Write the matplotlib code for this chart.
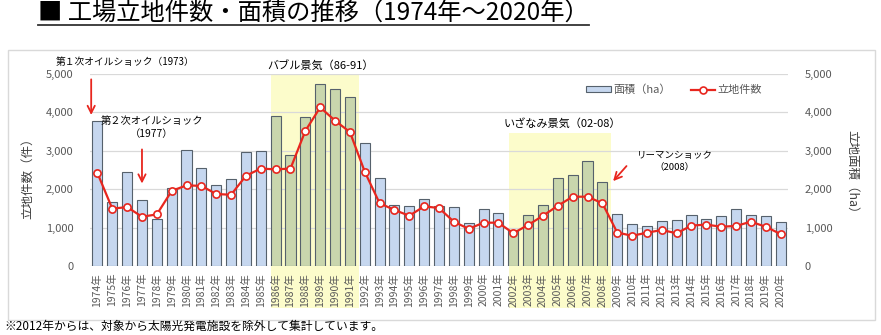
import matplotlib
matplotlib.use('Agg')
import matplotlib.pyplot as plt
import matplotlib.transforms as mtransforms
from matplotlib.patches import Rectangle
from matplotlib.lines import Line2D

plt.rcParams['font.family'] = ['Noto Sans CJK JP', 'DejaVu Sans']

# ---- data -------------------------------------------------------------
years = list(range(1974, 2021))
area_ha = [3770, 1655, 2440, 1710, 1220, 2020, 3020, 2540, 2100, 2250,
           2950, 2990, 3900, 2880, 3870, 4720, 4590, 4380, 3190, 2280,
           1585, 1570, 1735, 1560, 1525, 1110, 1475, 1370, 930, 1325,
           1585, 2280, 2365, 2735, 2180, 1340, 1080, 1040, 1180, 1190,
           1315, 1210, 1300, 1470, 1325, 1290, 1150]
sites = [2415, 1490, 1530, 1280, 1340, 1950, 2095, 2080, 1870, 1850,
         2345, 2530, 2510, 2530, 3510, 4120, 3775, 3480, 2450, 1630,
         1455, 1305, 1550, 1505, 1150, 965, 1125, 1125, 850, 1065,
         1305, 1565, 1800, 1800, 1630, 870, 785, 865, 935, 850,
         1050, 1075, 1020, 1040, 1150, 1020, 830]
tick_labels = [f'{y}年' for y in years]
boom_names = ['バブル景気（86-91）', 'いざなみ景気（02-08）']
boom_start = [1986, 2002]
boom_end = [1991, 2008]
boom_top = [5000, 3450]

# ---- colours ----------------------------------------------------------
BLUE = '#c6d7ef'
GREEN = '#c9d6ad'
EDGE = '#56616c'
RED = '#e8261e'
SHADE = '#fcfccb'
GRID = '#d9d9d9'
TXT = '#595959'

W, H = 881, 335
fig = plt.figure(figsize=(W / 100, H / 100), dpi=100)


def fx(px):
    return px / W


def fy(py):
    return 1 - py / H


# outer chart frame
fig.patches.append(Rectangle((fx(8), fy(320)), fx(875) - fx(8), fy(50) - fy(320),
                             transform=fig.transFigure, fill=False,
                             edgecolor=GRID, lw=1.0))

axL = fig.add_axes([fx(90), fy(266), fx(788) - fx(90), fy(73.5) - fy(266)])
axR = axL.twinx()
axL.set_zorder(axR.get_zorder() + 1)
axL.patch.set_visible(False)
axR.patch.set_visible(False)

x = list(range(len(years)))
for a in (axL, axR):
    a.set_xlim(-0.5, len(years) - 0.5)
    a.set_ylim(0, 5000)
    for s in a.spines.values():
        s.set_visible(False)

# boom periods: shaded bands reaching down through the year labels
band_tf = mtransforms.blended_transform_factory(axR.transData, axR.transAxes)
for s, e, top in zip(boom_start, boom_end, boom_top):
    x0 = years.index(s) - 0.3
    x1 = years.index(e) + 0.58
    ytop = top / 5000
    axR.add_patch(Rectangle((x0, -0.218), x1 - x0, ytop + 0.218,
                            transform=band_tf, facecolor=SHADE,
                            edgecolor='none', clip_on=False, zorder=0))

# area bars (right axis)
colors = []
for y in years:
    in_boom = any(s <= y <= e for s, e in zip(boom_start, boom_end))
    colors.append(GREEN if in_boom else BLUE)
axR.set_axisbelow(True)
axR.grid(axis='y', color=GRID, lw=0.9)
axR.bar(x, area_ha, width=0.68, color=colors, edgecolor=EDGE, lw=0.8, zorder=2)

# site count line (left axis)
axL.plot(x, sites, color=RED, lw=1.6, marker='o', ms=5.2, mfc='white',
         mec=RED, mew=1.2, zorder=3)

yt = list(range(0, 5001, 1000))
axL.set_yticks(yt)
axL.set_yticklabels([f'{v:,}' for v in yt])
axR.set_yticks(yt)
axR.set_yticklabels([f'{v:,}' for v in yt])
axL.tick_params(axis='y', length=0, pad=12, labelsize=8, labelcolor=TXT)
axR.tick_params(axis='y', length=0, pad=12, labelsize=8, labelcolor=TXT)
axL.set_xticks(x)
axL.set_xticklabels(tick_labels, rotation=90)
axL.tick_params(axis='x', length=0, pad=5, labelsize=7.5, labelcolor=TXT)

# axis titles
fig.text(fx(28), fy(175), '立地件数（件）', rotation=90, ha='center', va='center',
         fontsize=9, color='#404040')
fig.text(fx(852), fy(175), '立地面積（ha）', rotation=270, ha='center', va='center',
         fontsize=9, color='#404040')

# event labels and arrows
arrow = dict(arrowstyle='->', color=RED, lw=1.3, mutation_scale=13)
axL.text(-2.83, 5300, '第１次オイルショック（1973）', ha='left', va='center',
         fontsize=7.0, clip_on=False)
axL.annotate('', xy=(-0.42, 3850), xytext=(-0.42, 4920), arrowprops=arrow,
             annotation_clip=False)
axL.text(3.67, 3600, '第２次オイルショック\n（1977）', ha='center', va='center',
         fontsize=7.4, linespacing=1.3, clip_on=False)
axL.annotate('', xy=(3.0, 2070), xytext=(3.0, 3100), arrowprops=arrow,
             annotation_clip=False)
axL.text(38.86, 2730, 'リーマンショック\n（2008）', ha='center', va='center',
         fontsize=6.8, linespacing=1.35, clip_on=False)
axL.annotate('', xy=(34.6, 2150), xytext=(35.75, 2650), arrowprops=arrow,
             annotation_clip=False)
axL.text(15.0, 5220, boom_names[0], ha='center', va='center', fontsize=8,
         clip_on=False)
axL.text(31.3, 3690, boom_names[1], ha='center', va='center', fontsize=8,
         clip_on=False)

# legend
handles = [Rectangle((0, 0), 1, 1, facecolor=BLUE, edgecolor=EDGE, lw=0.8),
           Line2D([], [], color=RED, lw=1.6, marker='o', ms=5, mfc='white',
                  mec=RED, mew=1.2)]
fig.legend(handles, ['面積（ha）', '立地件数'], loc='center',
           bbox_to_anchor=(fx(674), fy(90)), ncol=2, frameon=False,
           fontsize=8, handlelength=2.2, handleheight=0.45,
           columnspacing=1.8, handletextpad=0.2, labelcolor=TXT)

# title with underline
title = fig.text(fx(38), fy(14), '■ 工場立地件数・面積の推移（1974年～2020年）',
                 ha='left', va='center', fontsize=17.5)
renderer = fig.canvas.get_renderer()
bb = title.get_window_extent(renderer)
fig.add_artist(Line2D([bb.x0 / W, bb.x1 / W], [fy(25), fy(25)],
                      transform=fig.transFigure, color='#333333', lw=1.3))

fig.text(fx(4), fy(326), '※2012年からは、対象から太陽光発電施設を除外して集計しています。',
         ha='left', va='center', fontsize=8.5)

fig.savefig('out.png', dpi=100)
